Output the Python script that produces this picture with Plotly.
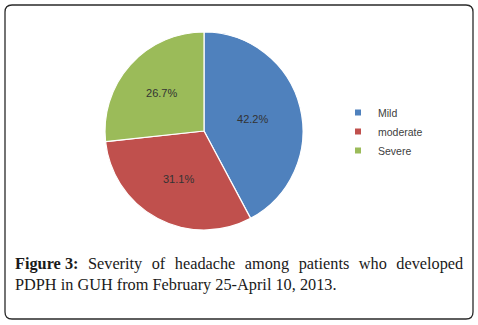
import plotly.graph_objects as go

categories = ["Mild", "moderate", "Severe"]
values = [42.2, 31.1, 26.7]
colors = ["#4F81BD", "#C0504D", "#9BBB59"]
caption_bold = "Figure 3:"
caption_line1 = "Severity of headache among patients who developed"
caption_line2 = "PDPH in GUH from February 25-April 10, 2013."

W, H = 478, 325

fig = go.Figure()
fig.add_trace(go.Pie(
    labels=categories,
    values=values,
    marker=dict(colors=colors, line=dict(color="white", width=1.2)),
    sort=False,
    direction="clockwise",
    rotation=0,
    texttemplate="%{value:.1f}%",
    textposition="inside",
    insidetextorientation="horizontal",
    textfont=dict(family="Liberation Sans", size=11, color="#333333"),
    domain=dict(x=[100 / W, 308 / W], y=[(H - 230) / H, (H - 32) / H]),
    hoverinfo="label+percent",
    showlegend=False,
))

# legend entries (small square markers like the original)
for name, col in zip(categories, colors):
    fig.add_trace(go.Scatter(
        x=[None], y=[None], mode="markers", name=name,
        marker=dict(symbol="square", size=6, color=col),
        showlegend=True, hoverinfo="skip",
    ))

fig.update_xaxes(visible=False)
fig.update_yaxes(visible=False)

sp = "\u2002\u200a"
line1 = sp.join(caption_line1.split(" "))

fig.update_layout(
    width=W, height=H,
    margin=dict(l=0, r=0, t=0, b=0),
    paper_bgcolor="white",
    plot_bgcolor="rgba(0,0,0,0)",
    showlegend=True,
    legend=dict(
        x=338 / W, y=1 - 98 / H, xanchor="left", yanchor="top",
        font=dict(family="Liberation Sans", size=10.5, color="#404040"),
        bgcolor="rgba(0,0,0,0)",
        itemwidth=30,
    ),
    shapes=[dict(
        type="path", xref="paper", yref="paper",
        path=("M {a},{b} L {c},{b} Q {d},{b} {d},{e} L {d},{f} Q {d},{g} {c},{g} "
              "L {a},{g} Q {h},{g} {h},{f} L {h},{e} Q {h},{b} {a},{b} Z").format(
            a=12 / W, c=466 / W, d=473 / W, h=5 / W,
            b=1 - 5 / H, e=1 - 12 / H, f=13 / H, g=6 / H),
        line=dict(color="#2a2a2a", width=1.3),
        fillcolor="rgba(0,0,0,0)",
    )],
    annotations=[
        dict(text="<b>" + caption_bold + "</b>" + sp + line1,
             x=13 / W, y=1 - 263 / H, xref="paper", yref="paper",
             xanchor="left", yanchor="middle", showarrow=False,
             font=dict(family="Liberation Serif", size=16.3, color="#1a1a1a")),
        dict(text=caption_line2,
             x=13 / W, y=1 - 284 / H, xref="paper", yref="paper",
             xanchor="left", yanchor="middle", showarrow=False,
             font=dict(family="Liberation Serif", size=16.3, color="#1a1a1a")),
    ],
)

fig.write_html("out.html", config={"displayModeBar": False},
               post_script="document.body.style.margin='0';document.body.style.overflow='hidden';")
